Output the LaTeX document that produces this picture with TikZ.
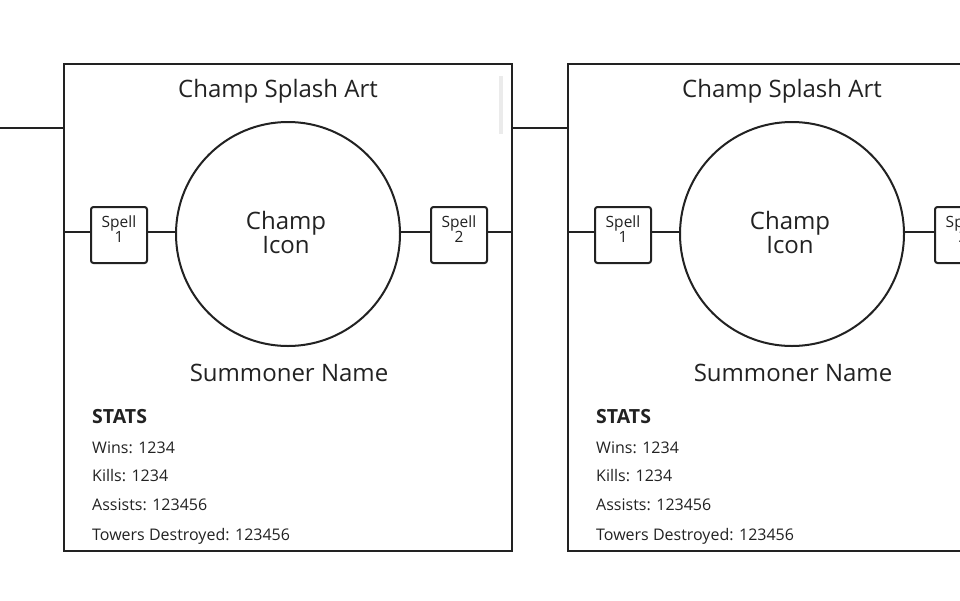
\documentclass[tikz,border=0pt]{standalone}
\usepackage{fontspec}
\setmainfont{Open Sans}
\definecolor{ink}{HTML}{222222}
\definecolor{scroll}{HTML}{EBEBEB}
\tikzset{
  wire/.style={draw=ink, line width=2pt},
  card/.style={draw=ink, line width=2pt, minimum width=448pt, minimum height=487pt, inner sep=0pt},
  spellbox/.style={draw=ink, line width=2pt, rounded corners=2.5pt, minimum width=56pt, minimum height=56pt, inner sep=0pt},
  spelltext/.style={align=center, text=ink, inner sep=0pt, font=\fontsize{15.5}{15}\selectfont},
  icon/.style={draw=ink, line width=2pt, circle, minimum size=224pt, inner sep=0pt},
  icontext/.style={align=center, text=ink, inner sep=0pt, font=\fontsize{24}{24}\selectfont},
  bigtext/.style={text=ink, font=\fontsize{24}{27}\selectfont, inner sep=0pt, anchor=base},
  stattitle/.style={text=ink, font=\bfseries\fontsize{19.5}{22}\selectfont, inner sep=0pt, anchor=base west},
  statline/.style={text=ink, font=\fontsize{16}{19}\selectfont, inner sep=0pt, anchor=base west},
}
\begin{document}
\begin{tikzpicture}[x=1pt,y=-1pt]
\useasboundingbox (0,0) rectangle (960,600);
\clip (0,0) rectangle (960,600);
\fill[white] (0,0) rectangle (960,600);
\foreach \i/\o in {1/0,2/504}{
  \node[card] (card\i) at (288+\o,307.5) {};
  \node[bigtext] (title\i) at (278+\o,97) {Champ Splash Art};
  \node[icon] (icon\i) at (288+\o,234) {};
  \node[icontext] (icontext\i) at (286+\o,232) {Champ\\Icon};
  \node[spellbox] (spellA\i) at (119+\o,235) {};
  \node[spelltext] (spellAt\i) at (119+\o,229.5) {Spell\\1};
  \node[spellbox] (spellB\i) at (459+\o,235) {};
  \node[spelltext] (spellBt\i) at (459+\o,229.5) {Spell\\2};
  \node[bigtext] (name\i) at (289+\o,381) {Summoner Name};
  \node[stattitle] (stats\i) at (92+\o,423) {STATS};
  \node[statline] (wins\i) at (92+\o,453) {Wins: 1234};
  \node[statline] (kills\i) at (92+\o,481) {Kills: 1234};
  \node[statline] (assists\i) at (92+\o,510) {Assists: 123456};
  \node[statline] (towers\i) at (92+\o,540) {Towers Destroyed: 123456};
  \coordinate (lane\i) at (0,232);
  \draw[wire] (card\i.west |- lane\i) -- (spellA\i.west |- lane\i);
  \draw[wire] (spellA\i.east |- lane\i) -- (icon\i.west |- lane\i);
  \draw[wire] (icon\i.east |- lane\i) -- (spellB\i.west |- lane\i);
  \draw[wire] (spellB\i.east |- lane\i) -- (card\i.east |- lane\i);
}
\fill[scroll] (499,76) rectangle (503,134);
\coordinate (leftend) at (0,128);
\draw[wire] (leftend) -- (card1.west |- leftend);
\draw[wire] (card1.east |- leftend) -- (card2.west |- leftend);
\end{tikzpicture}
\end{document}
